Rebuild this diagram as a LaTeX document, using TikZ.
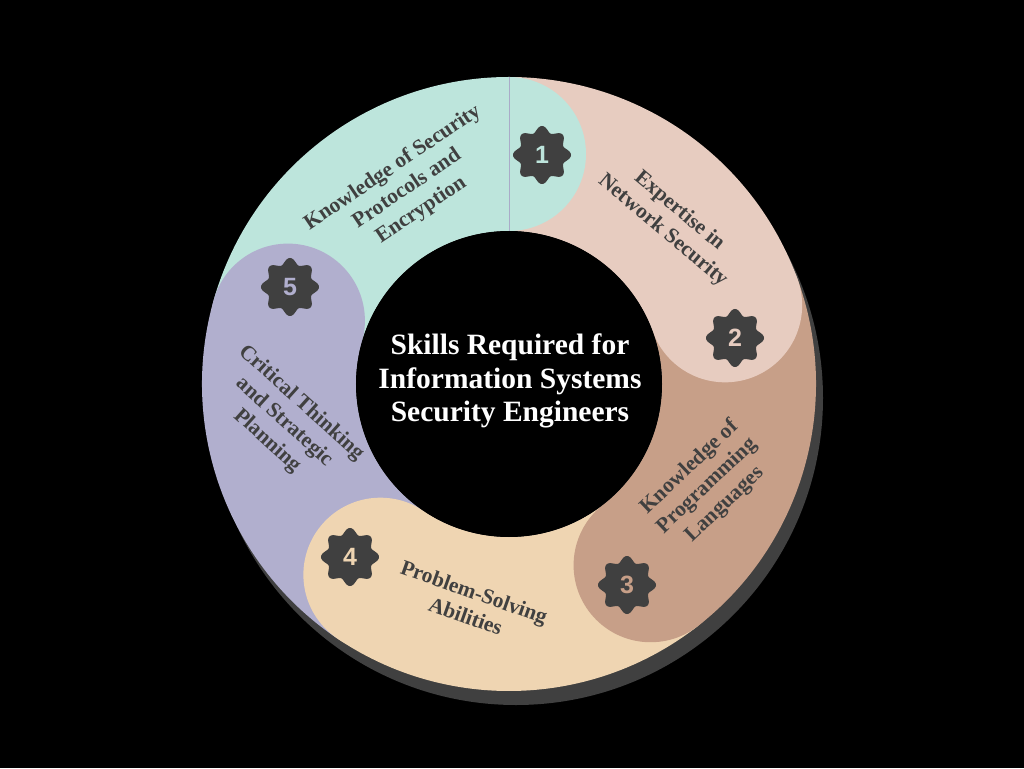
\documentclass[tikz,border=0pt]{standalone}
\usepackage{fontspec}
\setmainfont{Liberation Serif}
\setsansfont{Liberation Sans}
\usepackage{tikz}

\begin{document}
\begin{tikzpicture}[x=1pt,y=1pt,
		lbl/.style={text=clbl,font=\fontsize{21.5}{25.5}\selectfont\bfseries,align=center},
		num/.style={font=\fontsize{25}{25}\selectfont\sffamily\bfseries,inner sep=0pt},
		ttl/.style={text=white,font=\fontsize{29.5}{33.5}\selectfont\bfseries,align=center}]
			\definecolor{cbg}{rgb}{0.0,0.0,0.0}
			\definecolor{csh}{rgb}{0.251,0.251,0.251}
			\definecolor{clbl}{rgb}{0.251,0.251,0.251}
			\definecolor{cline}{rgb}{0.663,0.671,0.784}
			\definecolor{cs1}{rgb}{0.741,0.898,0.863}
			\definecolor{cs2}{rgb}{0.906,0.800,0.753}
			\definecolor{cs3}{rgb}{0.780,0.624,0.533}
			\definecolor{cs4}{rgb}{0.937,0.835,0.698}
			\definecolor{cs5}{rgb}{0.694,0.686,0.808}
			%
			\fill[cbg] (-509,-384) rectangle (515,384);
			\fill[csh] (7,-14) circle[radius=307];
			%
			\fill[cs1] (90:307) arc[start angle=90,end angle=164,radius=307] -- (164:153) arc[start angle=164,end angle=90,radius=153] -- cycle;
			\fill[cs2] (20:307) arc[start angle=20,end angle=90,radius=307] -- (90:153) arc[start angle=90,end angle=20,radius=153] -- cycle;
			\fill[cs3] (-52:307) arc[start angle=-52,end angle=20,radius=307] -- (20:153) arc[start angle=20,end angle=-52,radius=153] -- cycle;
			\fill[cs4] (-124:307) arc[start angle=-124,end angle=-52,radius=307] -- (-52:153) arc[start angle=-52,end angle=-124,radius=153] -- cycle;
			\fill[cs5] (164:307) arc[start angle=164,end angle=236,radius=307] -- (236:153) arc[start angle=236,end angle=164,radius=153] -- cycle;
			%
			\fill[cs1] (90:230) circle[radius=77];
			\fill[cs2] (20:230) circle[radius=77];
			\fill[cs3] (-52:230) circle[radius=77];
			\fill[cs4] (-124:230) circle[radius=77];
			\fill[cs5] (164:230) circle[radius=77];
			\fill[cbg] (0,0) circle[radius=153];
			\draw[cline,line width=1] (90:153) -- (90:307);
			%
			\fill[csh,shift={(33,229)}] plot[domain=0:360,samples=161,variable=\t] (\t:{26+3*cos(8*\t)}) -- cycle;
			\fill[csh,shift={(226,46)}] plot[domain=0:360,samples=161,variable=\t] (\t:{26+3*cos(8*\t)}) -- cycle;
			\fill[csh,shift={(118,-201)}] plot[domain=0:360,samples=161,variable=\t] (\t:{26+3*cos(8*\t)}) -- cycle;
			\fill[csh,shift={(-159,-173)}] plot[domain=0:360,samples=161,variable=\t] (\t:{26+3*cos(8*\t)}) -- cycle;
			\fill[csh,shift={(-219,97)}] plot[domain=0:360,samples=161,variable=\t] (\t:{26+3*cos(8*\t)}) -- cycle;
			\node[num,text=cs1] (b1) at (33,229) {1};
			\node[num,text=cs2] (b2) at (226,46) {2};
			\node[num,text=cs3] (b3) at (118,-201) {3};
			\node[num,text=cs4] (b4) at (-159,-173) {4};
			\node[num,text=cs5] (b5) at (-219,97) {5};
			%
			\node[lbl,rotate=34] (l1) at (-102,195) {Knowledge of Security\\Protocols and\\Encryption};
			\node[lbl,rotate=-40] (l2) at (162,163) {Expertise in\\Network Security};
			\node[lbl,rotate=43.5] (l3) at (198,-102) {Knowledge of\\Programming\\Languages};
			\node[lbl,rotate=-19.5] (l4) at (-39,-220) {Problem-Solving\\Abilities};
			\node[lbl,rotate=-42] (l5) at (-225,-38) {Critical Thinking\\and Strategic\\Planning};
			%
			\node[ttl] (t) at (1,3) {Skills Required for\\Information Systems\\Security Engineers};
			%
		\end{tikzpicture}
\end{document}
